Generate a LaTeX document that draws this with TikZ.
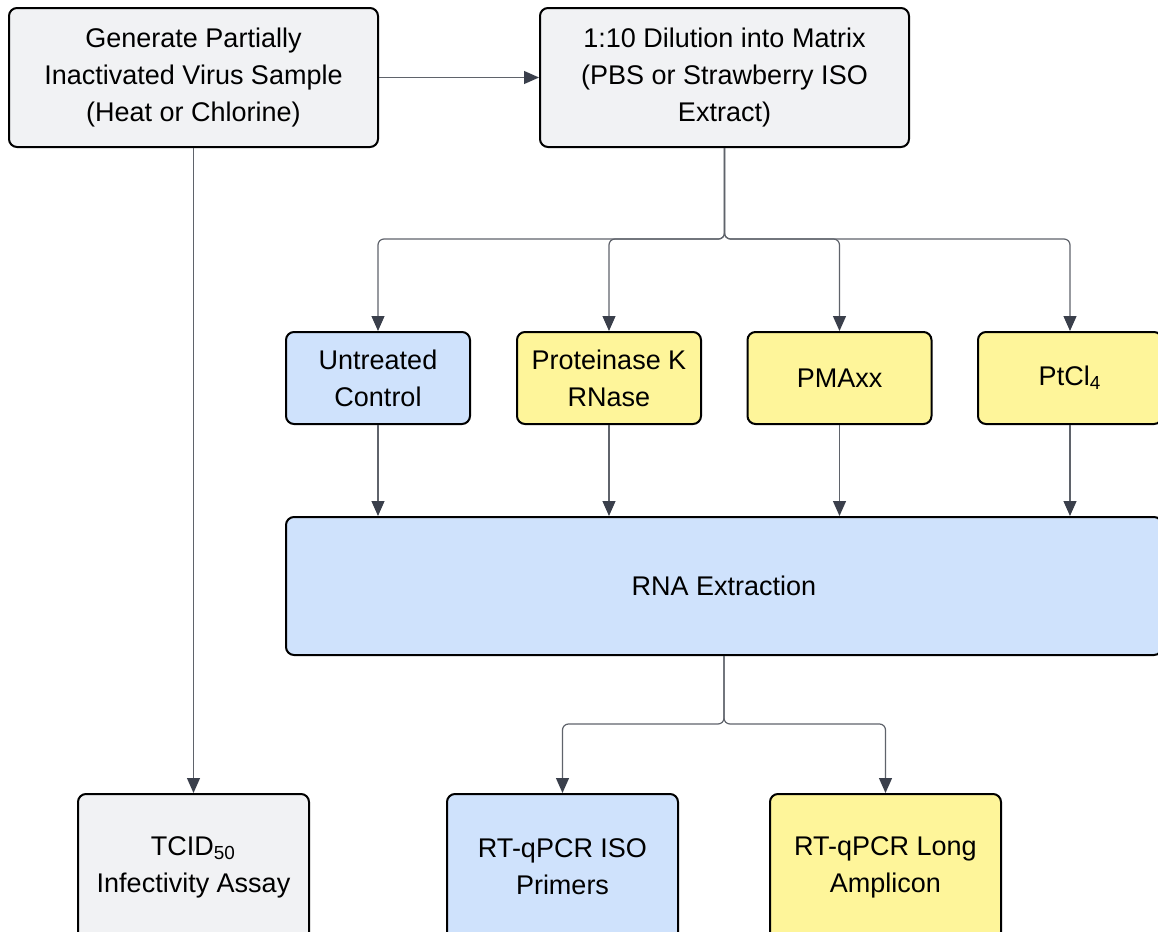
\documentclass[tikz,border=0pt]{standalone}
\usepackage{fontspec}
\setmainfont{Liberation Sans}
\usetikzlibrary{arrows.meta}

\definecolor{boxgray}{HTML}{F1F2F4}
\definecolor{boxblue}{HTML}{CFE2FC}
\definecolor{boxyellow}{HTML}{FEF59A}
\definecolor{linegray}{HTML}{5F636B}
\definecolor{tipgray}{HTML}{3A3F4B}

\tikzset{
  box/.style={draw=black, line width=1pt, rounded corners=4pt, align=center,
    inner sep=0pt, font=\fontsize{13.5}{18.5}\selectfont},
  topbox/.style={box, fill=boxgray, minimum width=184.5pt, minimum height=69.5pt},
  treatbox/.style={box, minimum width=92pt, minimum height=46pt},
  assaybox/.style={box, minimum width=115.5pt, minimum height=73pt},
  link/.style={draw=linegray, line width=0.6pt, rounded corners=3pt,
    -{Triangle[length=7.5pt,width=6.5pt,color=tipgray]}},
}

\begin{document}
\begin{tikzpicture}[x=0.5pt,y=-0.5pt]
    \useasboundingbox (0,0) rectangle (1158,932);
    \clip (0,0) rectangle (1158,932);

    \node[topbox] (sample) at (193.5,77.5) {Generate Partially\\Inactivated Virus Sample\\(Heat or Chlorine)};
    \node[topbox] (dilution) at (724.5,77.5) {1:10 Dilution into Matrix\\(PBS or Strawberry ISO\\Extract)};

    \node[treatbox, fill=boxblue] (untreated) at (378,378) {Untreated\\Control};
    \node[treatbox, fill=boxyellow] (protk) at (609,378) {Proteinase K\\RNase};
    \node[treatbox, fill=boxyellow] (pmaxx) at (839.5,378) {PMAxx};
    \node[treatbox, fill=boxyellow] (ptcl) at (1070,378) {PtCl\textsubscript{4}};

    \node[box, fill=boxblue, minimum width=438pt, minimum height=69pt] (rna) at (724,586) {RNA Extraction};

    \node[assaybox, fill=boxgray] (tcid) at (193.5,867) {TCID\textsubscript{50}\\Infectivity Assay};
    \node[assaybox, fill=boxblue] (rtiso) at (562.5,867) {RT-qPCR ISO\\Primers};
    \node[assaybox, fill=boxyellow] (rtlong) at (885.5,867) {RT-qPCR Long\\Amplicon};

    \coordinate (split1) at (724.5,239);
    \coordinate (split2) at (724,724);

    \draw[link] (sample) -- (dilution);
    \draw[link] (sample) -- (tcid);

    \foreach \t in {untreated,protk,pmaxx,ptcl} {
        \draw[link] (dilution.south) -- (split1) -| (\t.north);
        \draw[link] (\t.south) -- (\t.south |- rna.north);
    }

    \draw[link] (rna.south) -- (split2) -| (rtiso.north);
    \draw[link] (rna.south) -- (split2) -| (rtlong.north);
\end{tikzpicture}
\end{document}
